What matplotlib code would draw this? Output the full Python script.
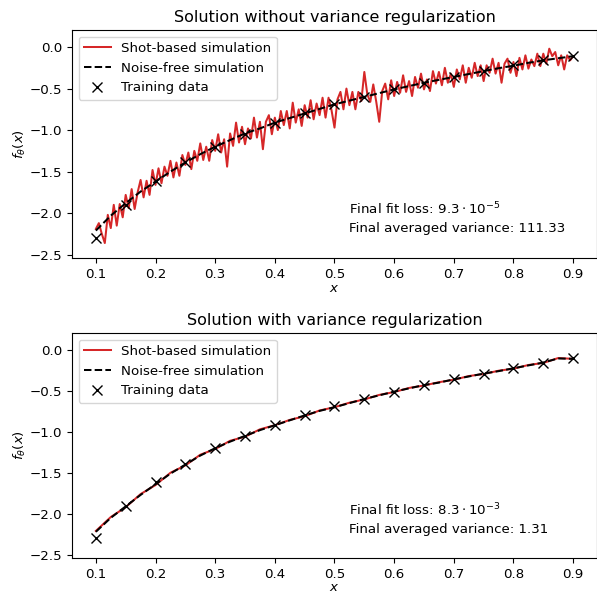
import numpy as np
import matplotlib
matplotlib.use("Agg")
import matplotlib.pyplot as plt

plt.rcParams["font.size"] = 9.6
plt.rcParams["axes.titlesize"] = 11.5

# Training data
x_train = [0.10, 0.15, 0.20, 0.25, 0.30, 0.35, 0.40, 0.45, 0.50, 0.55,
           0.60, 0.65, 0.70, 0.75, 0.80, 0.85, 0.90]
y_train = [-2.30, -1.90, -1.61, -1.39, -1.20, -1.05, -0.92, -0.80, -0.69,
           -0.60, -0.51, -0.43, -0.36, -0.29, -0.22, -0.16, -0.105]

# Noise-free simulation grid (0.1 .. 0.9 step 0.025)
x_clean = np.linspace(0.1, 0.9, 33)
y_clean_top = [-2.21, -2.03, -1.88, -1.74, -1.62, -1.50, -1.39, -1.29, -1.20,
               -1.12, -1.04, -0.98, -0.91, -0.855, -0.80, -0.745, -0.69,
               -0.645, -0.60, -0.555, -0.51, -0.47, -0.43, -0.395, -0.36,
               -0.325, -0.29, -0.255, -0.225, -0.19, -0.16, -0.135, -0.11]
y_clean_bot = [-2.22, -2.05, -1.91, -1.77, -1.64, -1.51, -1.40, -1.29, -1.20,
               -1.12, -1.05, -0.98, -0.92, -0.86, -0.80, -0.745, -0.70,
               -0.65, -0.60, -0.555, -0.51, -0.47, -0.43, -0.40, -0.36,
               -0.325, -0.29, -0.26, -0.225, -0.19, -0.155, -0.105, -0.11]
y_shot_bot = [-2.21, -2.04, -1.92, -1.76, -1.65, -1.50, -1.41, -1.28, -1.21,
              -1.11, -1.06, -0.97, -0.92, -0.855, -0.81, -0.74, -0.70,
              -0.645, -0.605, -0.55, -0.515, -0.465, -0.435, -0.395, -0.365,
              -0.32, -0.295, -0.255, -0.23, -0.185, -0.16, -0.10, -0.11]

# Shot-based simulation, without regularization (0.1 .. 0.9 step 0.005)
x_shot = np.linspace(0.1, 0.9, 161)
y_shot_top = [
    -2.19, -2.12, -2.25, -2.36, -2.02, -2.18, -1.90, -2.15, -1.89, -2.05,
    -1.78, -1.94, -1.71, -1.95, -1.75, -1.60, -1.81, -1.61, -1.78, -1.48,
    -1.66, -1.46, -1.64, -1.44, -1.55, -1.37, -1.57, -1.39, -1.55, -1.30,
    -1.42, -1.27, -1.47, -1.25, -1.37, -1.16, -1.36, -1.20, -1.37, -1.12,
    -1.25, -1.05, -1.27, -1.11, -1.44, -1.04, -1.19, -0.91, -1.15, -0.96,
    -1.17, -0.98, -1.10, -0.85, -1.09, -0.90, -1.23, -0.90, -0.82, -1.05,
    -0.85, -1.00, -0.77, -0.94, -0.77, -0.98, -0.67, -0.91, -0.75, -0.95,
    -0.70, -0.85, -0.64, -0.87, -0.68, -0.82, -0.61, -0.85, -0.61, -0.76,
    -0.97, -0.63, -0.54, -0.75, -0.50, -0.70, -0.54, -0.75, -0.54, -0.65,
    -0.30, -0.57, -0.66, -0.45, -0.66, -0.90, -0.53, -0.44, -0.63, -0.40,
    -0.59, -0.42, -0.55, -0.34, -0.54, -0.41, -0.59, -0.36, -0.49, -0.32,
    -0.51, -0.39, -0.53, -0.29, -0.44, -0.30, -0.46, -0.25, -0.43, -0.32,
    -0.48, -0.27, -0.39, -0.22, -0.43, -0.25, -0.37, -0.19, -0.35, -0.22,
    -0.41, -0.22, -0.31, -0.14, -0.32, -0.19, -0.43, -0.20, -0.14, -0.31,
    -0.18, -0.35, -0.13, -0.27, -0.10, -0.26, -0.15, -0.23, -0.08, -0.23,
    -0.08, -0.20, -0.02, -0.11, -0.06, -0.22, -0.10, -0.27, -0.10, -0.16,
    -0.11]

titles = ["Solution without variance regularization",
          "Solution with variance regularization"]
loss_texts = [r"Final fit loss: $9.3\cdot10^{-5}$",
              r"Final fit loss: $8.3\cdot10^{-3}$"]
var_texts = ["Final averaged variance: 111.33",
             "Final averaged variance: 1.31"]

fig = plt.figure(figsize=(5.97, 5.93), dpi=100)
ax1 = fig.add_axes([0.1206, 0.5649, 0.8794, 0.3845])
ax2 = fig.add_axes([0.1206, 0.0590, 0.8794, 0.3794])

panels = [(ax1, x_shot, y_shot_top, y_clean_top),
          (ax2, x_clean, y_shot_bot, y_clean_bot)]

for i, (ax, xs, ys, yc) in enumerate(panels):
    ax.plot(xs, ys, color="tab:red", lw=1.45, label="Shot-based simulation")
    ax.plot(x_clean, yc, color="black", ls="--", lw=1.45,
            label="Noise-free simulation")
    ax.plot(x_train, y_train, ls="none", marker="x", color="black",
            ms=7, mew=1.0, label="Training data")
    ax.set_title(titles[i])
    ax.set_xlabel("$x$", labelpad=1 if i == 0 else 0.3)
    ax.set_ylabel(r"$f_\theta(x)$", labelpad=1)
    ax.set_ylim(-2.54, 0.205)
    ax.set_xlim(0.06, 0.94)
    ax.set_yticks([0.0, -0.5, -1.0, -1.5, -2.0, -2.5])
    ax.set_xticks([0.1, 0.2, 0.3, 0.4, 0.5, 0.6, 0.7, 0.8, 0.9])
    ax.legend(loc="upper left")
    ax.text(0.525, -1.95, loss_texts[i], va="center", ha="left")
    ax.text(0.525, -2.19, var_texts[i], va="center", ha="left")

fig.savefig("out.png", dpi=100)
